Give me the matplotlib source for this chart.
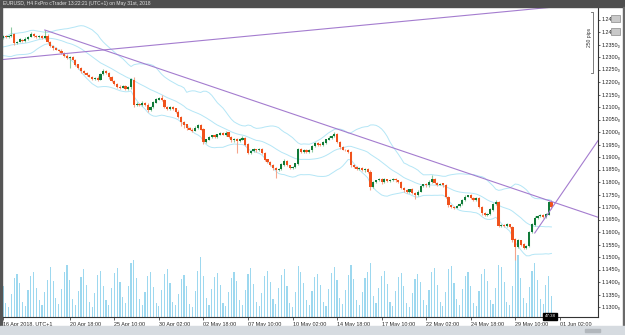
import numpy as np
import pandas as pd
import matplotlib
matplotlib.use("Agg")
from matplotlib import pyplot as plt
from matplotlib.patches import Rectangle
from matplotlib.lines import Line2D

plt.rcParams["font.family"] = ["Liberation Sans", "DejaVu Sans"]

# EURUSD H4 closes, one per bar
closes = [
    1.2384, 1.2380, 1.2386, 1.2390, 1.2356, 1.2362, 1.2370, 1.2366, 1.2374, 1.2382,
    1.2392, 1.2386, 1.2380, 1.2384, 1.2378, 1.2386, 1.2360, 1.2344, 1.2336, 1.2330,
    1.2326, 1.2318, 1.2306, 1.2296, 1.2300, 1.2290, 1.2270, 1.2256, 1.2244, 1.2236,
    1.2228, 1.2222, 1.2214, 1.2218, 1.2210, 1.2232, 1.2244, 1.2236, 1.2220, 1.2204,
    1.2192, 1.2182, 1.2178, 1.2184, 1.2172, 1.2180, 1.2210, 1.2108, 1.2114, 1.2108,
    1.2118, 1.2110, 1.2088, 1.2100, 1.2118, 1.2130, 1.2138, 1.2128, 1.2100, 1.2092,
    1.2100, 1.2094, 1.2082, 1.2060, 1.2040, 1.2030, 1.2016, 1.2010, 1.2006, 1.2018,
    1.2028, 1.2010, 1.1960, 1.1970, 1.1980, 1.1986, 1.1982, 1.1990, 1.1996, 1.1990,
    1.1998, 1.1980, 1.1966, 1.1972, 1.1964, 1.1970, 1.1976, 1.1950, 1.1918, 1.1924,
    1.1930, 1.1926, 1.1932, 1.1916, 1.1890, 1.1880, 1.1868, 1.1856, 1.1846, 1.1852,
    1.1870, 1.1884, 1.1866, 1.1858, 1.1860, 1.1874, 1.1932, 1.1922, 1.1928, 1.1920,
    1.1926, 1.1944, 1.1956, 1.1950, 1.1946, 1.1958, 1.1970, 1.1978, 1.1984, 1.1990,
    1.1960, 1.1940, 1.1930, 1.1928, 1.1920, 1.1868, 1.1862, 1.1852, 1.1856, 1.1846,
    1.1852, 1.1840, 1.1780, 1.1800, 1.1806, 1.1812, 1.1800, 1.1810, 1.1804, 1.1808,
    1.1812, 1.1806, 1.1800, 1.1776, 1.1766, 1.1760, 1.1770, 1.1756, 1.1748, 1.1762,
    1.1784, 1.1790, 1.1786, 1.1800, 1.1812, 1.1796, 1.1790, 1.1794, 1.1786, 1.1740,
    1.1706, 1.1702, 1.1698, 1.1704, 1.1712, 1.1728, 1.1742, 1.1746, 1.1736, 1.1730,
    1.1736, 1.1700, 1.1676, 1.1668, 1.1672, 1.1690, 1.1712, 1.1720, 1.1624, 1.1628,
    1.1624, 1.1630, 1.1620, 1.1570, 1.1540, 1.1566, 1.1550, 1.1538, 1.1544, 1.1600,
    1.1630, 1.1656, 1.1664, 1.1668, 1.1662, 1.1670, 1.1720, 1.1700,
]
first_open = 1.2376

# wick lengths in pips above / below the body
up_wick = [
    4, 6, 3, 30, 5, 4, 6, 3, 5, 4, 7, 4, 3, 5, 4, 22, 6, 4, 5, 3,
    4, 5, 3, 6, 4, 5, 3, 4, 6, 3, 4, 5, 3, 4, 6, 5, 7, 4, 3, 5,
    4, 3, 5, 4, 6, 3, 8, 10, 5, 4, 6, 3, 5, 4, 6, 5, 4, 12, 6, 4,
    5, 3, 4, 6, 3, 5, 4, 3, 6, 5, 4, 6, 5, 4, 6, 3, 5, 4, 6, 3,
    5, 4, 3, 6, 4, 5, 8, 4, 5, 3, 6, 4, 5, 3, 6, 4, 5, 3, 4, 6,
    5, 7, 4, 3, 5, 4, 6, 5, 3, 4, 6, 5, 4, 3, 5, 6, 4, 5, 4, 10,
    6, 4, 5, 3, 4, 6, 5, 3, 4, 6, 5, 4, 7, 5, 4, 6, 3, 5, 4, 6,
    5, 3, 4, 6, 4, 5, 3, 6, 4, 5, 6, 4, 5, 7, 16, 4, 5, 3, 4, 6,
    5, 4, 3, 6, 4, 5, 6, 4, 5, 3, 6, 4, 5, 3, 4, 6, 5, 7, 4, 5,
    3, 6, 4, 5, 8, 6, 4, 5, 3, 6, 5, 7, 4, 5, 3, 6, 5, 8,
]
dn_wick = [
    5, 3, 4, 6, 8, 4, 3, 5, 4, 6, 3, 4, 5, 3, 4, 6, 5, 4, 6, 3,
    5, 4, 6, 3, 40, 4, 5, 3, 6, 4, 5, 3, 4, 6, 5, 3, 4, 5, 6, 4,
    5, 6, 4, 3, 5, 4, 6, 8, 5, 4, 3, 6, 10, 4, 5, 3, 4, 6, 5, 4,
    3, 5, 6, 4, 15, 12, 6, 4, 5, 3, 6, 4, 8, 5, 3, 4, 6, 5, 4, 3,
    5, 4, 6, 5, 48, 4, 3, 6, 5, 4, 3, 6, 4, 5, 6, 4, 5, 6, 30, 4,
    3, 5, 4, 6, 5, 3, 4, 6, 5, 4, 3, 5, 4, 6, 3, 4, 5, 3, 4, 5,
    4, 6, 3, 5, 4, 8, 5, 4, 6, 3, 5, 4, 10, 5, 4, 3, 6, 4, 5, 3,
    4, 6, 5, 4, 6, 3, 5, 4, 16, 5, 3, 4, 6, 5, 4, 3, 5, 4, 6, 5,
    6, 4, 5, 3, 4, 6, 5, 3, 4, 6, 5, 4, 6, 5, 3, 4, 5, 3, 6, 4,
    5, 3, 4, 10, 50, 5, 6, 4, 5, 3, 4, 6, 5, 3, 4, 5, 4, 6,
]

# tick volume per bar
volumes = [
    30, 14, 10, 22, 38, 42, 33, 15, 11, 26, 40, 44, 28, 16, 12, 24, 36, 48, 35, 18,
    13, 27, 44, 50, 36, 17, 12, 25, 39, 46, 31, 15, 10, 23, 41, 45, 30, 16, 12, 28,
    43, 47, 34, 19, 14, 30, 52, 55, 38, 17, 12, 24, 40, 44, 29, 14, 11, 26, 42, 46,
    33, 15, 12, 22, 37, 41, 30, 13, 10, 25, 45, 58, 40, 18, 12, 27, 39, 43, 31, 14,
    11, 24, 38, 44, 35, 16, 12, 26, 42, 47, 32, 15, 11, 23, 40, 45, 34, 17, 13, 28,
    41, 46, 30, 14, 10, 24, 49, 44, 33, 16, 12, 25, 39, 42, 31, 15, 11, 27, 43, 48,
    36, 18, 13, 26, 41, 50, 37, 16, 12, 24, 38, 44, 52, 20, 14, 28, 40, 45, 32, 15,
    11, 25, 39, 43, 30, 14, 10, 23, 37, 42, 34, 16, 12, 26, 44, 47, 31, 15, 11, 24,
    46, 49, 33, 17, 12, 27, 40, 44, 30, 14, 11, 25, 42, 46, 35, 16, 13, 28, 50, 48,
    34, 15, 12, 30, 58, 60, 38, 18, 14, 29, 45, 52, 36, 17, 13, 31, 40, 20,
]

# closes before the first visible bar, only feed the bollinger window
warmup = [
    1.2330, 1.2338, 1.2326, 1.2318, 1.2330, 1.2342, 1.2350, 1.2346, 1.2338, 1.2328,
    1.2320, 1.2316, 1.2326, 1.2334, 1.2340, 1.2348, 1.2356, 1.2362, 1.2370,
]

time_ticks = [0, 24, 40, 56, 72, 88, 104, 120, 136, 152, 168, 184, 200]
time_labels = ["16 Apr 2018, UTC+1", "20 Apr 18:00", "25 Apr 10:00", "30 Apr 02:00",
               "02 May 18:00", "07 May 10:00", "10 May 02:00", "14 May 18:00",
               "17 May 10:00", "22 May 02:00", "24 May 18:00", "29 May 10:00",
               "01 Jun 02:00"]
price_ticks = [round(1.1300 + 0.005 * k, 4) for k in range(24)]

# hand drawn trend lines (bar index, price)
trend_a_bars, trend_a_prices = [0, 196], [1.2290, 1.2498]
trend_b_bars, trend_b_prices = [15, 214], [1.2408, 1.1658]
trend_c_bars, trend_c_prices = [191, 214], [1.1596, 1.1970]

W, H = 625, 335


def fx(px):
    return px / W


def fy(py):
    return 1 - py / H


n = len(closes)
idx = np.arange(n)
c = np.array(closes)
o = np.array([first_open] + closes[:-1])
hi = np.maximum(o, c) + np.array(up_wick) * 0.0001
lo = np.minimum(o, c) - np.array(dn_wick) * 0.0001
bull = c >= o

s = pd.Series(warmup + closes)
mid = s.rolling(20).mean().values[-n:]
sd = s.rolling(20).std(ddof=0).values[-n:]
upper, lower = mid + 2 * sd, mid - 2 * sd

fig = plt.figure(figsize=(W / 100, H / 100), dpi=100)
fig.patch.set_facecolor("white")

ax = fig.add_axes([fx(2), 1 - 317 / H, (598 - 2) / W, 310 / H])
ax2 = ax.twinx()
ax.set_zorder(ax2.get_zorder() + 1)
ax.patch.set_visible(False)

# volumes
ax2.bar(idx, volumes, width=0.42, color="#9dd8ef", linewidth=0)
ax2.set_ylim(0, max(volumes) * 310 / 62)
ax2.set_yticks([])
for sp in ax2.spines.values():
    sp.set_visible(False)

# bollinger bands
bb_col = "#b4e6f6"
for band in (upper, mid, lower):
    ax.plot(idx, band, color=bb_col, lw=0.7, zorder=1)

# candles
wick_col = np.where(bull, "#8cc9a0", "#f5a58c")
body_col = np.where(bull, "#107a38", "#f0521c")
ax.vlines(idx, lo, hi, colors=wick_col, lw=0.8, zorder=2)
body_h = np.maximum(np.abs(c - o), 0.0001)
ax.bar(idx, body_h, bottom=np.minimum(o, c), width=0.78, color=body_col,
       linewidth=0, zorder=3)

# trend lines
tl_col = "#a47ccf"
ax.axline((trend_a_bars[0], trend_a_prices[0]), (trend_a_bars[1], trend_a_prices[1]),
          color=tl_col, lw=0.8, zorder=4)
ax.plot(trend_b_bars, trend_b_prices, color=tl_col, lw=0.8, zorder=4)
ax.plot(trend_c_bars, trend_c_prices, color=tl_col, lw=0.8, zorder=4)

ax.set_xlim((2 - 3) / 2.784, (598 - 3) / 2.784)
ax.set_ylim(1.1260, 1.2500)

ax.yaxis.tick_right()
ax.set_yticks(price_ticks, [f"{p:.4f}\u2080" for p in price_ticks])
ax.tick_params(axis="y", length=1.5, pad=0.8, labelsize=3.9, colors="#222222", width=0.5)
ax.set_xticks(time_ticks, time_labels)
ax.tick_params(axis="x", length=2, pad=1.5, labelsize=3.9, colors="#222222", width=0.5)
for lab in ax.get_xticklabels():
    lab.set_horizontalalignment("left")
for name, sp in ax.spines.items():
    sp.set_color("#333333")
    sp.set_linewidth(0.8)
ax.spines["top"].set_visible(False)
ax.spines["left"].set_visible(False)

# window chrome
fig.patches.append(Rectangle((0, fy(7)), 1, 7 / H, transform=fig.transFigure,
                             color="#4e4e4e", zorder=10))
fig.text(fx(3), fy(3.6), "EURUSD, H4 FxPro cTrader 13:22:21 (UTC+1) on May 31st, 2018",
         fontsize=3.6, color="#e0e0e0", va="center", ha="left", zorder=11)
fig.patches.append(Rectangle((0, 0), fx(2), fy(7), transform=fig.transFigure,
                             color="#555555", zorder=10))
fig.patches.append(Rectangle((fx(622.5), 0), fx(2.5), fy(7), transform=fig.transFigure,
                             color="#6a6a6a", zorder=10))
fig.patches.append(Rectangle((0, 0), 1, 9 / H, transform=fig.transFigure,
                             color="#d6dbe0", zorder=10))
fig.patches.append(Rectangle((fx(585), fy(332)), fx(15), 3 / H, transform=fig.transFigure,
                             color="#b2b7bc", zorder=11))

# chart icons at the top of the price scale
for top in (15, 28):
    fig.patches.append(Rectangle((fx(611), fy(top + 7)), fx(9), 7 / H,
                                 transform=fig.transFigure, facecolor="#c9c9c9",
                                 edgecolor="#8a8a8a", lw=0.5, zorder=12))

# 250 pips ruler
fig.add_artist(Line2D([fx(590.5), fx(593.3), fx(593.3), fx(590.5)],
                      [fy(11.7), fy(11.7), fy(73.3), fy(73.3)],
                      transform=fig.transFigure, color="#666666", lw=0.6))
fig.text(fx(589), fy(37), "250 pips", rotation=90, fontsize=3.6, color="#333333",
         ha="center", va="center")

# countdown box on the time scale
fig.patches.append(Rectangle((fx(543), fy(319.5)), fx(14), 6.5 / H, transform=fig.transFigure,
                             color="black", zorder=12))
fig.text(fx(550), fy(316.2), "47:38", fontsize=3.2, color="white", ha="center",
         va="center", zorder=13)

fig.savefig("out.png", dpi=100)
